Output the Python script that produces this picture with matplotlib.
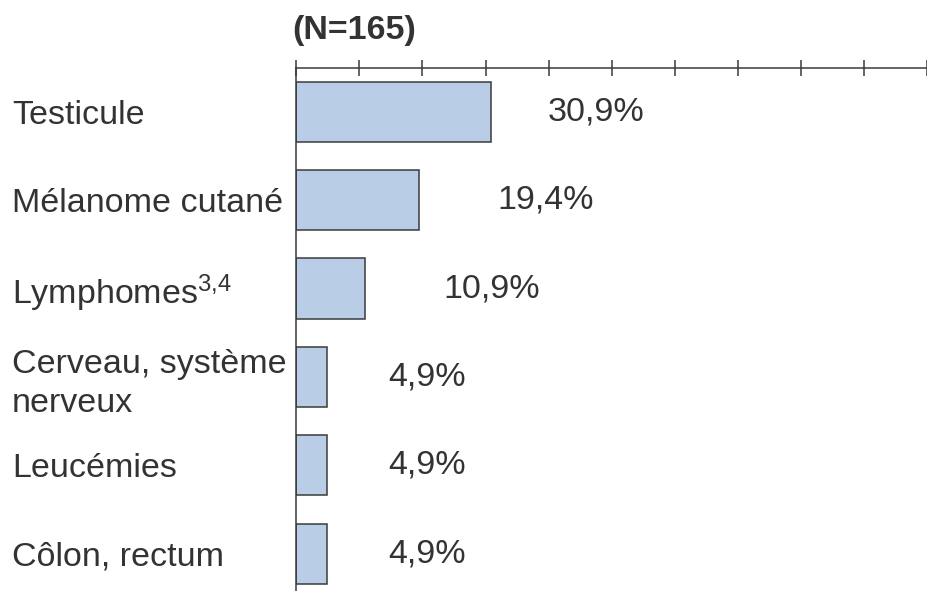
import matplotlib.pyplot as plt

plt.rcParams['font.family'] = ['Liberation Sans', 'DejaVu Sans']
plt.rcParams['mathtext.fontset'] = 'custom'
plt.rcParams['mathtext.rm'] = 'Liberation Sans'
plt.rcParams['mathtext.default'] = 'regular'

# Cancer sites, share of cases (N=165)
sites = [
    "Testicule",
    "Mélanome cutané",
    "Lymphomes$^{3{,}4}$",
    "Cerveau, système\nnerveux",
    "Leucémies",
    "Côlon, rectum",
]
shares = [30.9, 19.4, 10.9, 4.9, 4.9, 4.9]
share_labels = ["30,9%", "19,4%", "10,9%", "4,9%", "4,9%", "4,9%"]
title = "(N=165)"

# gap between bar end and its percentage label, in axis units
label_gap = [9.0, 12.5, 12.4, 9.7, 9.7, 9.7]

text_color = "#333333"
edge_color = "#3a3a3a"
bar_color = "#b9cde6"
fs = 24.5

W, H = 927, 591
fig = plt.figure(figsize=(W / 100, H / 100), dpi=100)
ax = fig.add_axes([296.3 / W, 0, 1 - 296.3 / W, 1 - 68.3 / H])

rows = list(range(len(sites)))
ax.barh(rows, shares, height=0.68, color=bar_color,
        edgecolor=edge_color, linewidth=1.1, zorder=2)

for r, v, lab, gap in zip(rows, shares, share_labels, label_gap):
    ax.text(v + gap, r, lab, ha="left", va="center",
            fontsize=fs, color=text_color)

ax.set_xlim(0, (W - 296.3) / 6.37)
ax.set_ylim(5.422, -0.491)

ax.xaxis.tick_top()
ax.set_xticks(range(0, 101, 10))
ax.set_xticklabels([])
ax.tick_params(axis="x", direction="inout", length=11.5, width=1.1,
               color=edge_color)

ax.set_yticks(rows)
ax.set_yticklabels(sites, fontsize=fs, color=text_color, ha="left",
                   linespacing=1.33)
ax.tick_params(axis="y", length=0, pad=(296.3 - 12) / 100 * 72)

for side in ("right", "bottom"):
    ax.spines[side].set_visible(False)
for side in ("top", "left"):
    ax.spines[side].set_color(edge_color)
    ax.spines[side].set_linewidth(1.1)

fig.text(292.7 / W, 1 - 30 / H, title, ha="left", va="center",
         fontsize=fs, fontweight="bold", color=text_color)

fig.savefig("out.png", dpi=100)
